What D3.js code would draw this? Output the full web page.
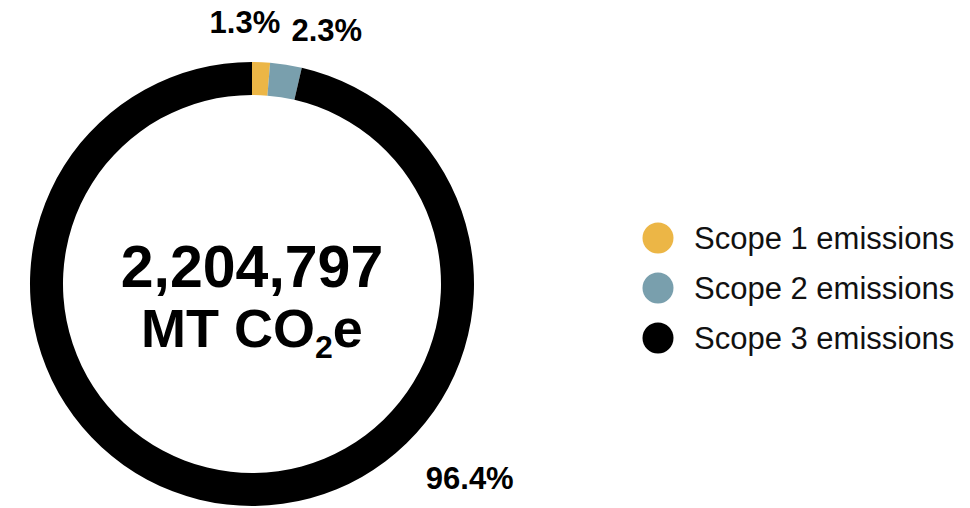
<!DOCTYPE html>
<html>
<head>
<meta charset="utf-8">
<script src="https://cdn.jsdelivr.net/npm/d3@7"></script>
<style>
  body { margin: 0; background: #fff; }
  text { font-family: "Liberation Sans", Arial, sans-serif; }
</style>
</head>
<body>
<div id="chart-area"></div>
<script>
// data
var categories = ["Scope 1 emissions", "Scope 2 emissions", "Scope 3 emissions"];
var shares = [1.3, 2.3, 96.4];
var pctLabels = ["1.3%", "2.3%", "96.4%"];
var colors = ["#ECB646", "#799FAD", "#000000"];
var totalLabel = "2,204,797";

var width = 970, height = 508;

var svg = d3.select("#chart-area").append("svg")
  .attr("width", width)
  .attr("height", height);

var cx = 252, cy = 284;
var outerR = 222, innerR = 189;

var g = svg.append("g")
  .attr("transform", "translate(" + cx + "," + cy + ")");

var pie = d3.pie().sort(null).value(function(d) { return d; });
var arcs = pie(shares);

var arc = d3.arc().innerRadius(innerR).outerRadius(outerR);

g.selectAll("path.slice")
  .data(arcs)
  .enter().append("path")
    .attr("class", "slice")
    .attr("d", arc)
    .attr("fill", function(d, i) { return colors[i]; });

// percentage labels, placed around the ring (angle offset, radius)
var labelPlace = [
  { angle: function(d) { return d.startAngle - 0.027; }, r: 262 },
  { angle: function(d) { return d.endAngle + 0.06; }, r: 265 },
  { angle: function(d) { return 2.3; }, r: 292 }
];

g.selectAll("text.pct")
  .data(arcs)
  .enter().append("text")
    .attr("class", "pct")
    .attr("x", function(d, i) { return labelPlace[i].r * Math.sin(labelPlace[i].angle(d)); })
    .attr("y", function(d, i) { return -labelPlace[i].r * Math.cos(labelPlace[i].angle(d)); })
    .attr("dy", "0.35em")
    .attr("text-anchor", "middle")
    .attr("font-size", "31px")
    .attr("font-weight", "bold")
    .attr("fill", "#000")
    .text(function(d, i) { return pctLabels[i]; });

// center total
g.append("text")
  .attr("x", 0)
  .attr("y", 3)
  .attr("text-anchor", "middle")
  .attr("font-size", "59px")
  .attr("font-weight", "bold")
  .text(totalLabel);

var unit = g.append("text")
  .attr("x", 0)
  .attr("y", 63)
  .attr("text-anchor", "middle")
  .attr("font-size", "54px")
  .attr("font-weight", "bold");
unit.append("tspan").text("MT CO");
unit.append("tspan").attr("font-size", "32px").attr("dy", 11).text("2");
unit.append("tspan").attr("dy", -11).text("e");

// legend
var legend = svg.append("g")
  .attr("transform", "translate(658, 238)");

var item = legend.selectAll("g.item")
  .data(categories)
  .enter().append("g")
    .attr("class", "item")
    .attr("transform", function(d, i) { return "translate(0," + (i * 50) + ")"; });

item.append("circle")
  .attr("r", 15.5)
  .attr("fill", function(d, i) { return colors[i]; });

item.append("text")
  .attr("x", 36)
  .attr("dy", "0.36em")
  .attr("font-size", "31px")
  .attr("fill", "#111")
  .text(function(d) { return d; });
</script>
</body>
</html>
